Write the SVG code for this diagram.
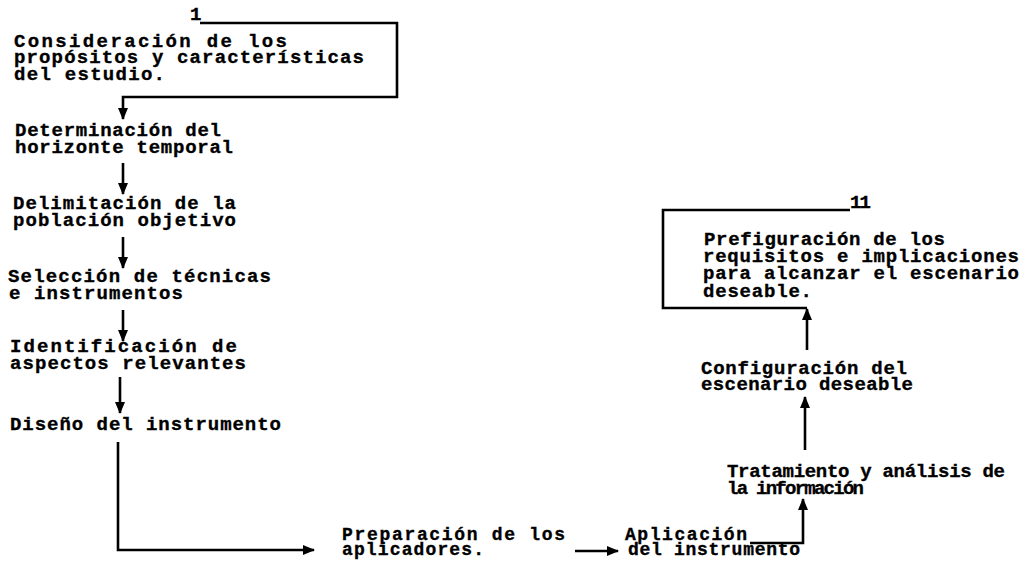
<svg xmlns="http://www.w3.org/2000/svg" width="1023" height="565" viewBox="0 0 1023 565">
<style>
text{font-family:"Liberation Mono","DejaVu Sans Mono",monospace;font-weight:bold;font-size:19px;fill:#000;stroke:#000;stroke-width:0.35}
.s{font-size:18px}
.c{fill:none;stroke:#000;stroke-width:2.6}
</style>
<defs>
<marker id="ah" markerUnits="userSpaceOnUse" markerWidth="12" markerHeight="12" viewBox="0 0 12 12" refX="11" refY="6" orient="auto">
<path d="M0,1 L12,6 L0,11 Z" fill="#000"/>
</marker>
</defs>
<rect width="1023" height="565" fill="#fff"/>
<g id="connectors">
<path class="c" d="M200,23 H397 V97 H123 V119" marker-end="url(#ah)"/>
<path class="c" d="M123,163 V194" marker-end="url(#ah)"/>
<path class="c" d="M123,237 V268" marker-end="url(#ah)"/>
<path class="c" d="M123,310 V341" marker-end="url(#ah)"/>
<path class="c" d="M120,377 V413" marker-end="url(#ah)"/>
<path class="c" d="M118,442 V550 H314" marker-end="url(#ah)"/>
<path class="c" d="M575,551 H618" marker-end="url(#ah)"/>
<path class="c" d="M750,543 H803 V499" marker-end="url(#ah)"/>
<path class="c" d="M805,450 V397" marker-end="url(#ah)"/>
<path class="c" d="M807,350 V309" marker-end="url(#ah)"/>
<path class="c" d="M807,308 H663 V210 H850"/>
</g>
<g id="label1"><text x="190" y="20">1</text></g>
<g id="label11"><text x="850" y="208" style="letter-spacing:-2px">11</text></g>
<g id="n1">
<text x="14" y="47" textLength="273" lengthAdjust="spacing">Consideración de los</text>
<text x="14" y="63" textLength="350" lengthAdjust="spacing">propósitos y características</text>
<text x="14" y="80" textLength="151" lengthAdjust="spacing">del estudio.</text>
</g>
<g id="n2">
<text x="15" y="136" textLength="206" lengthAdjust="spacing">Determinación del</text>
<text x="15" y="153" textLength="218" lengthAdjust="spacing">horizonte temporal</text>
</g>
<g id="n3">
<text x="13" y="209" textLength="223" lengthAdjust="spacing">Delimitación de la</text>
<text x="13" y="226" textLength="223" lengthAdjust="spacing">población objetivo</text>
</g>
<g id="n4">
<text x="8" y="282" textLength="263" lengthAdjust="spacing">Selección de técnicas</text>
<text x="9" y="299" textLength="174" lengthAdjust="spacing">e instrumentos</text>
</g>
<g id="n5">
<text x="10" y="352" textLength="227" lengthAdjust="spacing">Identificación de</text>
<text x="10" y="369" textLength="236" lengthAdjust="spacing">aspectos relevantes</text>
</g>
<g id="n6">
<text x="10" y="430" textLength="271" lengthAdjust="spacing">Diseño del instrumento</text>
</g>
<g id="n7">
<text class="s" x="342" y="540" textLength="223" lengthAdjust="spacing">Preparación de los</text>
<text class="s" x="342" y="555" textLength="142" lengthAdjust="spacing">aplicadores.</text>
</g>
<g id="n8">
<text class="s" x="625" y="540" textLength="122" lengthAdjust="spacing">Aplicación</text>
<text class="s" x="628" y="555" textLength="172" lengthAdjust="spacing">del instrumento</text>
</g>
<g id="n9">
<text x="727" y="477" textLength="278" lengthAdjust="spacing">Tratamiento y análisis de</text>
<text x="727" y="494" textLength="137" lengthAdjust="spacing">la información</text>
</g>
<g id="n10">
<text x="701" y="374" textLength="206" lengthAdjust="spacing">Configuración del</text>
<text x="701" y="390" textLength="212" lengthAdjust="spacing">escenario deseable</text>
</g>
<g id="n11">
<text x="704" y="245" textLength="241" lengthAdjust="spacing">Prefiguración de los</text>
<text x="703" y="262" textLength="316" lengthAdjust="spacing">requisitos e implicaciones</text>
<text x="703" y="279" textLength="316" lengthAdjust="spacing">para alcanzar el escenario</text>
<text x="703" y="297" textLength="109" lengthAdjust="spacing">deseable.</text>
</g>
</svg>
